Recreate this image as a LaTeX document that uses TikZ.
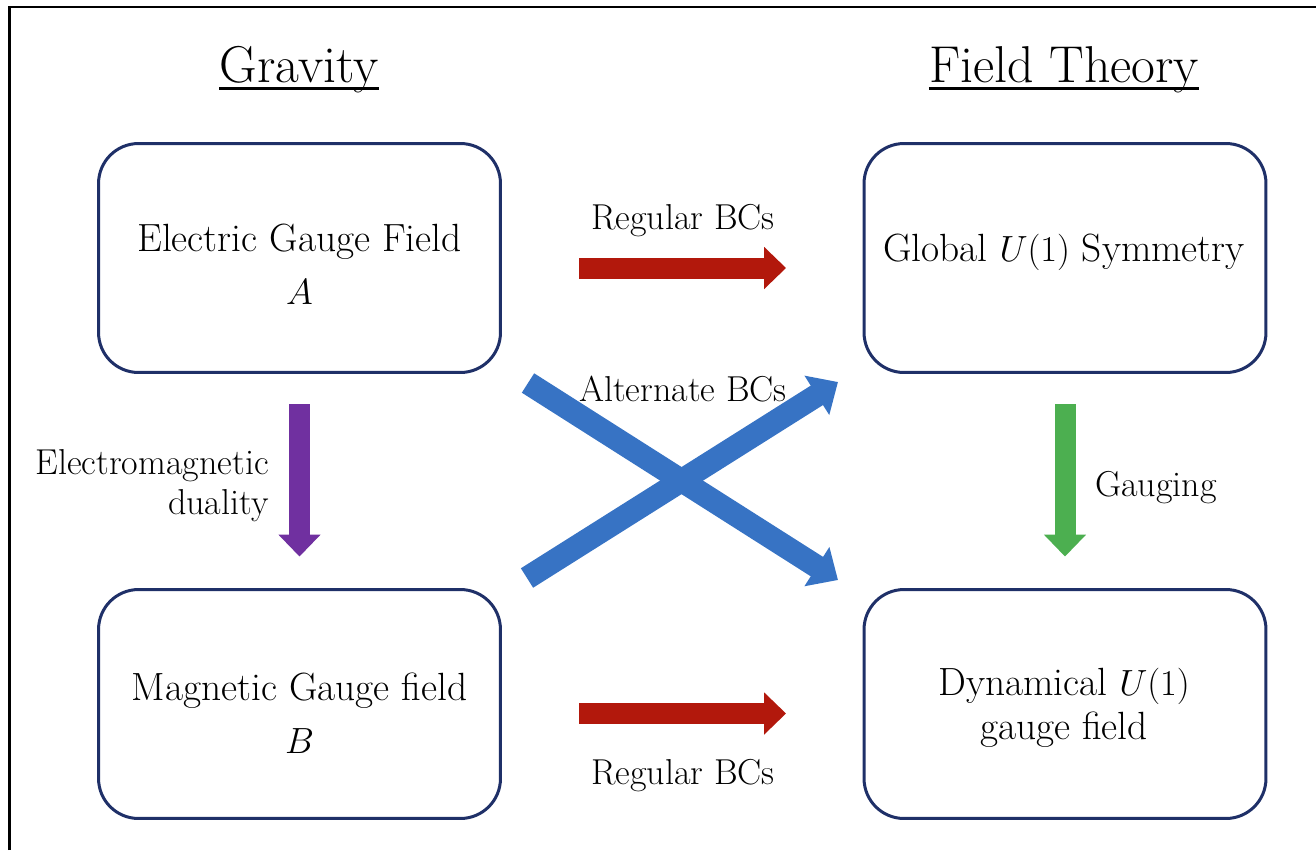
\documentclass[tikz,border=0pt]{standalone}
\usetikzlibrary{arrows.meta}

\definecolor{boxblue}{RGB}{31,48,104}
\definecolor{bcred}{RGB}{178,24,12}
\definecolor{bcblue}{RGB}{55,115,196}
\definecolor{dualpurple}{RGB}{112,48,160}
\definecolor{gaugegreen}{RGB}{76,175,80}

\begin{document}
\begin{tikzpicture}[x=0.02cm, y=-0.02cm,
  box/.style={draw=boxblue, line width=0.06cm, rounded corners=0.8cm,
    minimum width=8.04cm, minimum height=4.58cm},
  boxtxt/.style={align=center, font=\fontsize{22.4}{30}\selectfont},
  title/.style={font=\fontsize{29.5}{34}\selectfont, anchor=base, inner sep=0pt},
  lbl/.style={font=\fontsize{20.5}{22.8}\selectfont},
  fat/.style={line width=0.42cm, -{Triangle[length=0.44cm, width=0.82cm]}},
  fatter/.style={line width=0.46cm, -{Triangle[length=0.5cm, width=0.9cm]}}]
\useasboundingbox (0,0) rectangle (1316,850);
% Frame
\draw[line width=0.05cm] (9.5,850) -- (9.5,7) -- (1316,7);
% Titles
\node[title] (grav) at (299,82) {Gravity};
\node[title] (ft) at (1064,82) {Field Theory};
\draw[line width=0.05cm] ([yshift=-0.13cm]grav.base west) -- ([yshift=-0.13cm]grav.base east);
\draw[line width=0.05cm] ([yshift=-0.13cm]ft.base west) -- ([yshift=-0.13cm]ft.base east);
% Boxes
\node[box] (elec) at (299.5,258) {};
\node[box] (glob) at (1065,258) {};
\node[box] (mag) at (299.5,704) {};
\node[box] (dyn) at (1065,704) {};
\node[boxtxt] (electxt) at (299.5,264) {Electric Gauge Field\\$A$};
\node[boxtxt] (globtxt) at (1064,252) {Global $U(1)$ Symmetry};
\node[boxtxt] (magtxt) at (299.5,713) {Magnetic Gauge field\\$B$};
\node[boxtxt, font=\fontsize{22.4}{25}\selectfont] (dyntxt) at (1064,708) {Dynamical $U(1)$\\gauge field};
% Arrows
\draw[fat, bcred, shorten <=1.55cm, shorten >=1.53cm]
  ([yshift=-0.2cm]elec.east) -- ([yshift=-0.2cm]glob.west);
\draw[fat, bcred, shorten <=1.55cm, shorten >=1.53cm]
  ([yshift=-0.19cm]mag.east) -- ([yshift=-0.19cm]dyn.west);
\draw[fat, dualpurple, shorten <=0.61cm, shorten >=0.63cm] (elec.south) -- (mag.north);
\draw[fat, gaugegreen, shorten <=0.61cm, shorten >=0.63cm] (glob.south) -- (dyn.north);
\coordinate (altA) at (528,383);
\coordinate (altB) at (838,580);
\coordinate (altC) at (527,578);
\coordinate (altD) at (838,382);
\draw[fatter, bcblue] (altA) -- (altB);
\draw[fatter, bcblue] (altC) -- (altD);
% Labels
\node[lbl] (regtop) at (683,221) {Regular BCs};
\node[lbl] (regbot) at (683,776) {Regular BCs};
\node[lbl] (alt) at (683,389) {Alternate BCs};
\node[lbl] (gauging) at (1156,488) {Gauging};
\node[lbl, align=right, anchor=east] (emd) at (275,486) {Electromagnetic\\duality};
\end{tikzpicture}
\end{document}
